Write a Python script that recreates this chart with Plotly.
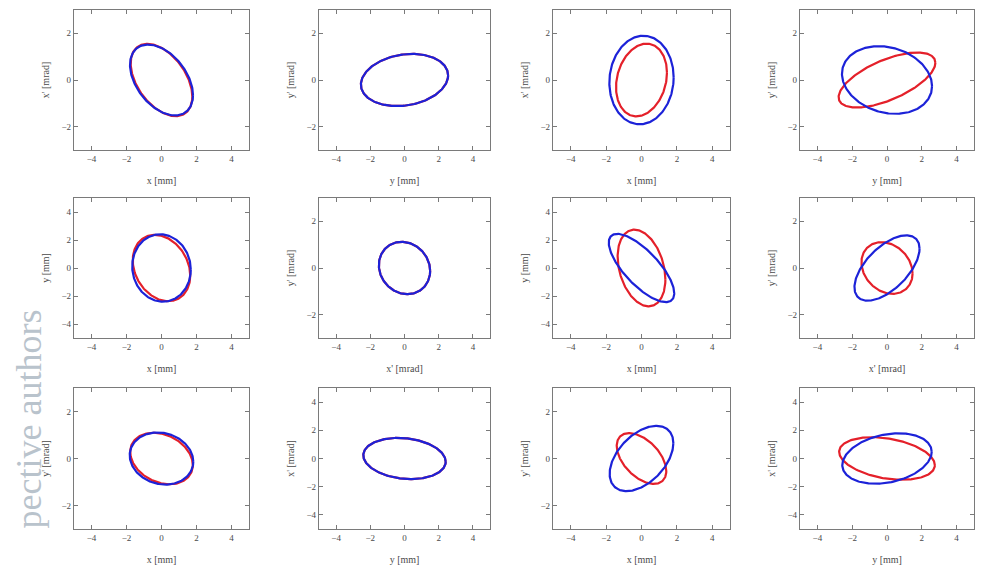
import numpy as np
import plotly.graph_objects as go

# ---- data (ellipse second moments per panel) ----
xlabels = ["x [mm]", "y [mm]", "x [mm]", "y [mm]",
           "x [mm]", "x' [mrad]", "x [mm]", "x' [mrad]",
           "x [mm]", "y [mm]", "x [mm]", "y [mm]"]
ylabels = ["x' [mrad]", "y' [mrad]", "x' [mrad]", "y' [mrad]",
           "y [mm]", "y' [mrad]", "y [mm]", "y' [mrad]",
           "y' [mrad]", "x' [mrad]", "y' [mrad]", "x' [mrad]"]
ylimits = [3, 3, 3, 3, 5, 3, 5, 3, 3, 5, 3, 5]
xlimit = 5
ticks_small = [-2, 0, 2]
ticks_large = [-4, -2, 0, 2, 4]

red_sxx = [3.10, 6.50, 2.07, 7.73, 2.70, 2.25, 1.82, 2.16, 3.20, 5.80, 1.96, 7.56]
red_sxy = [-1.25, 0.50, 0.45, 2.05, -0.90, -0.19, -1.10, -0.35, -0.50, -0.55, -0.75, -1.30]
red_syy = [2.40, 1.25, 2.43, 1.39, 5.60, 1.26, 7.50, 1.23, 1.20, 2.13, 1.17, 2.28]

blue_sxx = [3.24, 6.50, 3.30, 6.70, 2.80, 2.25, 3.42, 3.50, 3.30, 5.80, 3.24, 6.60]
blue_sxy = [-1.17, 0.50, 0.20, -0.69, -0.20, -0.19, -3.34, 1.55, -0.25, -0.55, 1.17, 1.20]
blue_syy = [2.31, 1.25, 3.60, 2.10, 5.80, 1.26, 5.95, 1.96, 1.23, 2.13, 1.93, 3.20]

# page is 988x573; the html body adds an 8px margin, so the figure is smaller
PAD = 8
W, H = 988 - 2 * PAD, 573 - 2 * PAD
col_px = [(74, 249), (319, 490), (553, 730), (800, 974)]
row_px = [(10, 150), (198, 338), (388, 529)]

RED = "#e4202a"
BLUE = "#1c22d8"
FRAME = "#7a7a7a"
TXT = "#4a4a4a"
FONT = "Liberation Serif"


def ellipse(sxx, sxy, syy, n=240):
    cov = np.array([[sxx, sxy], [sxy, syy]])
    L = np.linalg.cholesky(cov)
    t = np.linspace(0, 2 * np.pi, n)
    pts = L @ np.vstack([np.cos(t), np.sin(t)])
    return pts[0], pts[1]


def fx(px):
    return (px - PAD) / W


def fy(py):
    return 1 - (py - PAD) / H


fig = go.Figure()
layout = {}
for i in range(12):
    r, c = divmod(i, 4)
    k = i + 1
    xa = "x" if k == 1 else f"x{k}"
    ya = "y" if k == 1 else f"y{k}"
    for sxx, sxy, syy, col in ((red_sxx[i], red_sxy[i], red_syy[i], RED),
                               (blue_sxx[i], blue_sxy[i], blue_syy[i], BLUE)):
        ex, ey = ellipse(sxx, sxy, syy)
        fig.add_trace(go.Scatter(x=ex, y=ey, mode="lines", xaxis=xa, yaxis=ya,
                                 line=dict(color=col, width=2.2),
                                 showlegend=False, hoverinfo="skip"))
    x0, x1 = col_px[c]
    y0, y1 = row_px[r]
    ylim = ylimits[i]
    common = dict(showline=True, linecolor=FRAME, linewidth=1.2, mirror="allticks",
                  ticks="inside", ticklen=4, tickcolor=FRAME, showgrid=False,
                  zeroline=False, tickfont=dict(family=FONT, size=9, color=TXT),
                  title_font=dict(family=FONT, size=10, color=TXT))
    layout["xaxis" if k == 1 else f"xaxis{k}"] = dict(
        domain=[fx(x0), fx(x1)], anchor=ya, range=[-xlimit, xlimit],
        tickvals=ticks_large, title=dict(text=xlabels[i], standoff=14), **common)
    layout["yaxis" if k == 1 else f"yaxis{k}"] = dict(
        domain=[fy(y1), fy(y0)], anchor=xa, range=[-ylim, ylim],
        tickvals=ticks_large if ylim >= 5 else ticks_small,
        title=dict(text=ylabels[i], standoff=10), **common)

fig.update_layout(**layout)
fig.update_layout(width=W, height=H, margin=dict(l=0, r=0, t=0, b=0),
                  paper_bgcolor="white", plot_bgcolor="white")

fig.add_annotation(text="pective authors", xref="paper", yref="paper",
                   x=fx(28), y=fy(308), xanchor="center", yanchor="top",
                   textangle=-90, showarrow=False,
                   font=dict(family=FONT, size=36, color="#b9c3cc"))

fig.write_html("out.html")
